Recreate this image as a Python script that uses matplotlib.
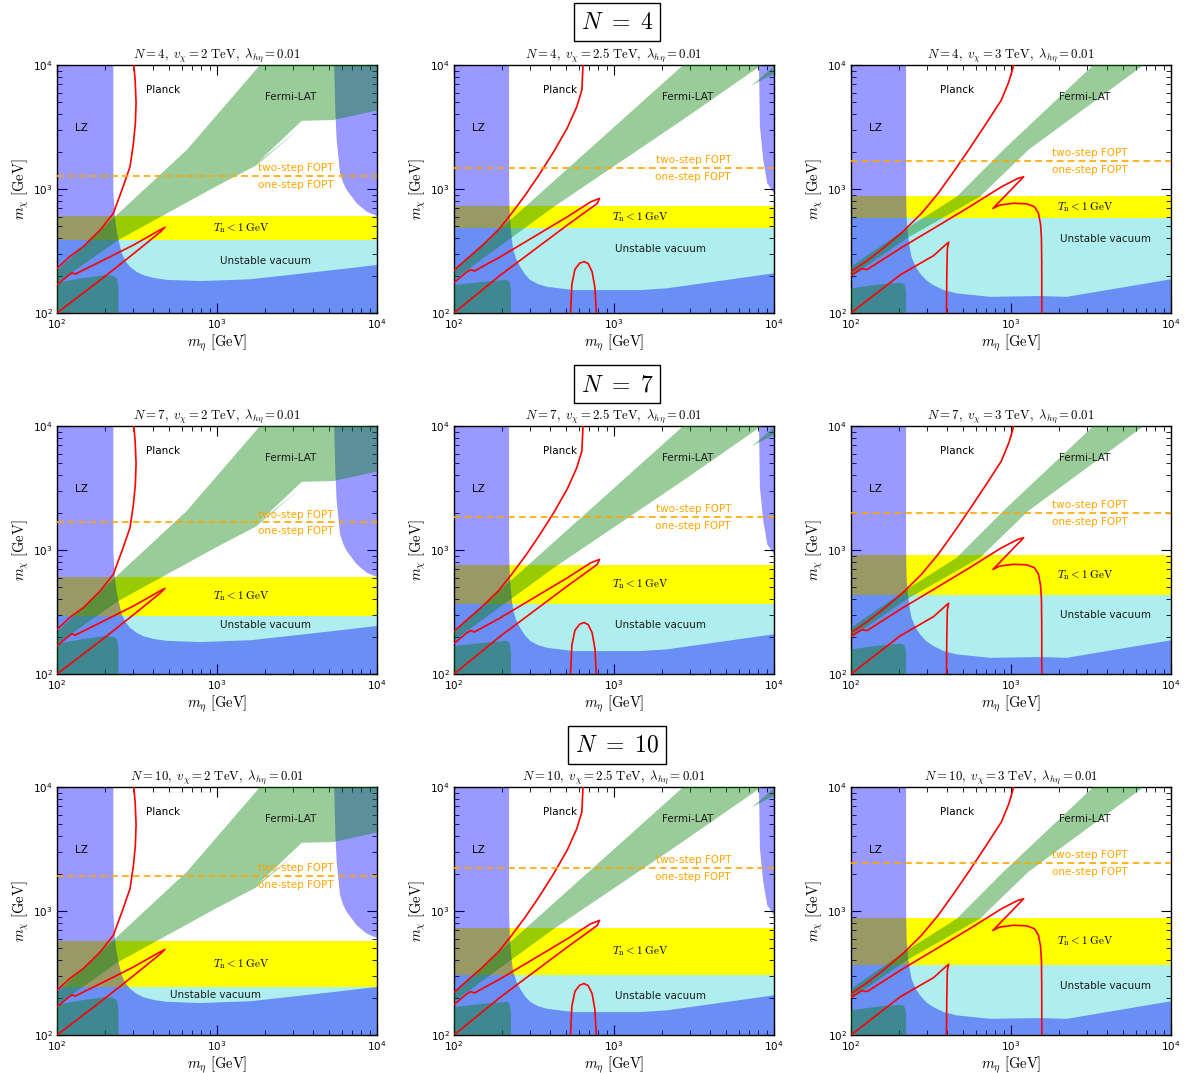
import matplotlib
matplotlib.use('Agg')
import matplotlib.pyplot as plt
from matplotlib.ticker import LogLocator, NullFormatter

plt.rcParams['mathtext.fontset'] = 'cm'
plt.rcParams['font.family'] = ['DejaVu Sans']

# ---------------- data ----------------
N_values = [4, 7, 10]
v_chi = ['2', '2.5', '3']

# rows (N) x cols (v_chi)
tn_top = [[605, 733, 879], [603, 757, 912], [573, 729, 879]]
tn_bottom = [[388, 488, 587], [295, 367, 433], [244, 305, 367]]
fopt_line = [[1274, 1486, 1683], [1672, 1837, 2000], [1914, 2222, 2440]]
uv_label_x = [[2000, 1940, 3870], [2000, 1940, 3870], [980, 1940, 3870]]
uv_label_y = [[264, 328, 395], [248, 248, 299], [210, 206, 248]]
tn_label_x = [1426, 1454, 2900]
fopt_label_x = [3090, 3130, 3090]

# LZ excluded region, left/bottom boundary (per column)
lz_edge_x = [
    [225, 225, 227, 230, 235, 241, 254, 268, 286, 314, 346, 400, 485, 783, 1607, 5333, 10000],
    [221, 221, 223, 226, 230, 235, 246, 259, 277, 299, 335, 379, 557, 1454, 2133, 10000],
    [221, 221, 222, 223, 228, 233, 239, 253, 270, 295, 327, 380, 458, 740, 1517, 2228, 10000],
]
lz_edge_y = [
    [10000, 1000, 780, 598, 480, 400, 303, 262, 236, 215, 202, 192, 185, 181, 187, 222, 244],
    [10000, 1000, 650, 497, 390, 322, 268, 236, 206, 185, 171, 163, 153, 153, 158, 209],
    [10000, 1000, 700, 562, 412, 335, 284, 237, 209, 184, 168, 153, 144, 135, 137, 135, 187],
]
# LZ excluded region on the right (None = absent)
lz_right_x = [[5400, 5500, 5598, 5875, 6150, 6471, 7464, 8630, 10000],
              [8054, 8166, 8570, 9078, 10000],
              None]
lz_right_y = [[10000, 4000, 2483, 1340, 1120, 982, 767, 656, 605],
              [10000, 3177, 1714, 1112, 923],
              None]

# Fermi-LAT band outline (per column)
fermi_x = [
    [100, 230, 647, 1858, 10000, 10000, 5333, 3388, 1799, 3311, 1758, 1000, 242, 100],
    [100, 282, 2710, 8375, 2585, 428, 100],
    [100, 223, 458, 895, 3273, 6761, 1282, 640, 223, 100],
]
fermi_y = [
    [219, 598, 2065, 10000, 10000, 4295, 3597, 3548, 1641, 3090, 1549, 1059, 388, 175],
    [224, 729, 10000, 10000, 3491, 729, 186],
    [236, 482, 867, 2065, 10000, 10000, 2065, 867, 400, 196],
]
# Fermi-LAT low-mass corner piece
fermi_low_x = [
    [100, 100, 141, 200, 224, 237, 242, 242],
    [100, 100, 150, 213, 222, 227, 227],
    [100, 100, 150, 202, 215, 221, 221],
]
fermi_low_y = [
    [100, 175, 190, 202, 200, 190, 160, 100],
    [100, 168, 178, 185, 180, 150, 100],
    [100, 158, 170, 175, 172, 150, 100],
]
# small Fermi-LAT sliver in the upper right corner (column 2)
fermi_extra_x = [None, [7244, 10000, 10000], None]
fermi_extra_y = [None, [6839, 8511, 9772], None]

# red contours (per column)
red_x = [
    [[100, 120, 146, 186, 225, 259, 286, 300, 309, 312, 308, 302],
     [100, 115, 121, 124, 130, 186, 300, 440, 473, 443, 301, 187, 100]],
    [[100, 120, 150, 190, 230, 280, 340, 420, 510, 585, 630, 640],
     [100, 120, 127, 134, 194, 315, 510, 714, 812, 785, 510, 315, 194, 100],
     [535, 545, 570, 610, 650, 690, 730, 760, 775]],
    [[100, 126, 160, 210, 275, 350, 445, 560, 700, 870, 970, 1040],
     [100, 117, 126, 210, 340, 550, 870, 1100, 1200, 1000, 771, 850, 1034,
      1250, 1400, 1483, 1530, 1550, 1556, 1558],
     [100, 203, 328, 395, 408, 400, 397, 395]],
]
red_y = [
    [[229, 285, 343, 467, 637, 1045, 1514, 2300, 3400, 5000, 7500, 10000],
     [169, 196, 206, 211, 206, 259, 353, 467, 491, 451, 301, 185, 100]],
    [[221, 272, 350, 470, 640, 900, 1300, 2000, 3100, 4600, 6300, 10000],
     [176, 214, 224, 218, 283, 411, 596, 787, 840, 764, 511, 321, 201, 100],
     [100, 170, 225, 252, 260, 250, 215, 160, 100]],
    [[215, 264, 335, 450, 634, 920, 1419, 2190, 3380, 5210, 7330, 10000],
     [201, 228, 224, 341, 494, 718, 1040, 1216, 1255, 985, 697, 742, 767,
      760, 720, 640, 520, 400, 250, 100],
     [100, 203, 290, 360, 372, 330, 200, 100]],
]

# ---------------- figure ----------------
FW, FH = 1186, 1073
fig = plt.figure(figsize=(FW / 100, FH / 100), dpi=100)
col_left = [57, 454, 851]
row_top = [65, 426, 787]
AW, AH = 320, 248
header_y = [22, 384, 745]

for r in range(3):
    fig.text(617 / FW, 1 - header_y[r] / FH, r'$N\ =\ %d$' % N_values[r],
             ha='center', va='center', fontsize=17,
             bbox=dict(boxstyle='square,pad=0.28', fc='white', ec='black', lw=1.0))
    for c in range(3):
        ax = fig.add_axes([col_left[c] / FW, 1 - (row_top[r] + AH) / FH, AW / FW, AH / FH])
        ax.set_xscale('log')
        ax.set_yscale('log')
        lo, hi = 100, 10000
        # unstable vacuum
        ax.fill_between([lo, hi], lo, tn_bottom[r][c], color='paleturquoise', lw=0, zorder=1)
        # T_n < 1 GeV
        ax.fill_between([lo, hi], tn_bottom[r][c], tn_top[r][c], color='yellow', lw=0, zorder=1)
        # LZ
        px = [lo, lo] + lz_edge_x[c] + [hi]
        py = [lo, hi] + lz_edge_y[c] + [lo]
        ax.fill(px, py, color='blue', alpha=0.4, lw=0, zorder=2)
        if lz_right_x[c] is not None:
            ax.fill(lz_right_x[c] + [hi], lz_right_y[c] + [hi], color='blue', alpha=0.4, lw=0, zorder=2)
        # Fermi-LAT
        ax.fill(fermi_x[c], fermi_y[c], color='green', alpha=0.4, lw=0, zorder=3)
        ax.fill(fermi_low_x[c], fermi_low_y[c], color='green', alpha=0.4, lw=0, zorder=3)
        if fermi_extra_x[c] is not None:
            ax.fill(fermi_extra_x[c], fermi_extra_y[c], color='green', alpha=0.4, lw=0, zorder=3)
        # red contours
        for xs, ys in zip(red_x[c], red_y[c]):
            ax.plot(xs, ys, color='red', lw=1.2, zorder=4)
        # FOPT line
        ax.axhline(fopt_line[r][c], color='orange', lw=1.2, ls=(0, (4, 2.5)), zorder=5)
        ax.annotate('two-step FOPT', (fopt_label_x[c], fopt_line[r][c]), xytext=(0, 2),
                    textcoords='offset points', ha='center', va='bottom',
                    color='orange', fontsize=7.5, zorder=6)
        ax.annotate('one-step FOPT', (fopt_label_x[c], fopt_line[r][c]), xytext=(0, -3),
                    textcoords='offset points', ha='center', va='top',
                    color='orange', fontsize=7.5, zorder=6)
        # labels
        ax.text(460, 6300, 'Planck', ha='center', va='center', fontsize=7.5, zorder=6)
        ax.text(2900, 5500, 'Fermi-LAT', ha='center', va='center', fontsize=7.5,
                color='#1a1a1a', zorder=6)
        ax.text(143, 3090, 'LZ', ha='center', va='center', fontsize=7.5, zorder=6)
        tn_mid = (tn_top[r][c] * tn_bottom[r][c]) ** 0.5
        ax.text(tn_label_x[c], tn_mid, r'$T_{\rm n} < 1\ \mathrm{GeV}$', ha='center',
                va='center', fontsize=8, zorder=6)
        ax.text(uv_label_x[r][c], uv_label_y[r][c], 'Unstable vacuum', ha='center',
                va='center', fontsize=7.5, color='#1a1a1a', zorder=6)

        ax.set_xlim(lo, hi)
        ax.set_ylim(lo, hi)
        ax.xaxis.set_major_locator(LogLocator(base=10, numticks=5))
        ax.yaxis.set_major_locator(LogLocator(base=10, numticks=5))
        ax.xaxis.set_minor_locator(LogLocator(base=10, subs=range(2, 10), numticks=20))
        ax.yaxis.set_minor_locator(LogLocator(base=10, subs=range(2, 10), numticks=20))
        ax.xaxis.set_minor_formatter(NullFormatter())
        ax.yaxis.set_minor_formatter(NullFormatter())
        ax.tick_params(which='both', direction='in', top=True, right=True, labelsize=7.5)
        ax.tick_params(which='major', length=7, width=0.8, pad=3)
        ax.tick_params(which='minor', length=3.5, width=0.6)
        for s in ax.spines.values():
            s.set_linewidth(1.0)
        ax.set_xlabel(r'$m_\eta\ [\mathrm{GeV}]$', fontsize=10.5, labelpad=1)
        ax.set_ylabel(r'$m_\chi\ [\mathrm{GeV}]$', fontsize=10.5, labelpad=2)
        ax.set_title(r'$N = %d,\ v_\chi = %s\ \mathrm{TeV},\ \lambda_{h\eta} = 0.01$'
                     % (N_values[r], v_chi[c]), fontsize=9.2, pad=5)

fig.savefig('out.png', dpi=100)
